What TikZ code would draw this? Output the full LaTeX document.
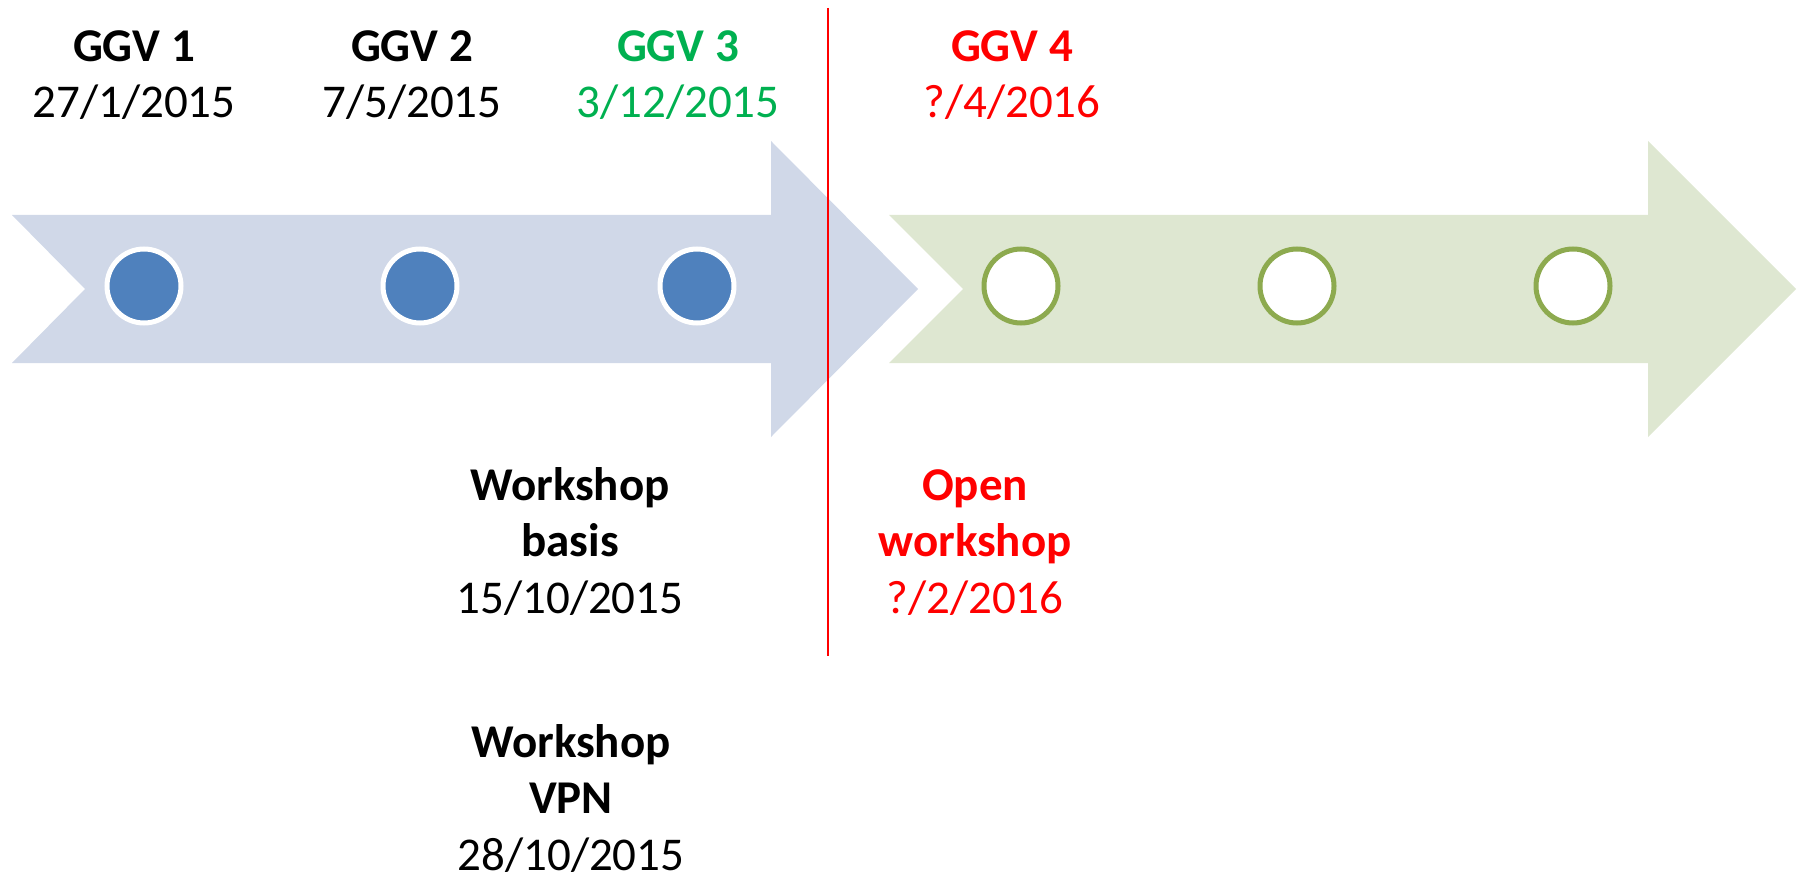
\documentclass[tikz,border=0pt]{standalone}
\usepackage{fontspec}
\setmainfont{Carlito}
\definecolor{bluefill}{HTML}{D0D8E8}
\definecolor{greenfill}{HTML}{DEE7D1}
\definecolor{bluedotc}{HTML}{4F81BD}
\definecolor{greenring}{HTML}{8DAA4F}
\definecolor{donegreen}{HTML}{00B050}
\definecolor{todored}{HTML}{FF0000}
\begin{document}
\begin{tikzpicture}[x=0.5pt,y=-0.5pt,
  lbl/.style={anchor=base,inner sep=0pt,align=center,
    font=\fontsize{23.5pt}{28.25pt}\selectfont},
  bluedot/.style={circle,fill=bluedotc,draw=white,line width=2.5pt,minimum size=37pt,inner sep=0pt},
  greendot/.style={circle,fill=white,draw=greenring,line width=2.5pt,minimum size=37pt,inner sep=0pt}]
\useasboundingbox (0,0) rectangle (1799,877);
% arrows
\fill[bluefill] (12,215) -- (771,215) -- (771,141) -- (918,289) -- (771,437) -- (771,363) -- (12,363) -- (85,289) -- cycle;
\fill[greenfill] (889,215) -- (1648,215) -- (1648,141) -- (1796,289) -- (1648,437) -- (1648,363) -- (889,363) -- (963,289) -- cycle;
% dots
\node[bluedot] (c1) at (144,286) {};
\node[bluedot] (c2) at (420,286) {};
\node[bluedot] (c3) at (697,286) {};
\node[greendot] (c4) at (1021,286) {};
\node[greendot] (c5) at (1297,286) {};
\node[greendot] (c6) at (1573,286) {};
% divider
\coordinate (rt) at (828,8);
\coordinate (rb) at (828,656);
\draw[todored,line width=1pt] (rt) -- (rb);
% labels (base anchor = baseline of last line)
\node[lbl] (g1) at (134,118) {\textbf{GGV 1}\\27/1/2015};
\node[lbl] (g2) at (412,118) {\textbf{GGV 2}\\7/5/2015};
\node[lbl,text=donegreen] (g3) at (678,118) {\textbf{GGV 3}\\3/12/2015};
\node[lbl,text=todored] (g4) at (1012,118) {\textbf{GGV 4}\\?/4/2016};
\node[lbl] (w1) at (570,613) {\textbf{Workshop}\\\textbf{basis}\\15/10/2015};
\node[lbl] (w2) at (571,870) {\textbf{Workshop}\\\textbf{VPN}\\28/10/2015};
\node[lbl,text=todored] (w3) at (975,613) {\textbf{Open}\\\textbf{workshop}\\?/2/2016};
\end{tikzpicture}
\end{document}
